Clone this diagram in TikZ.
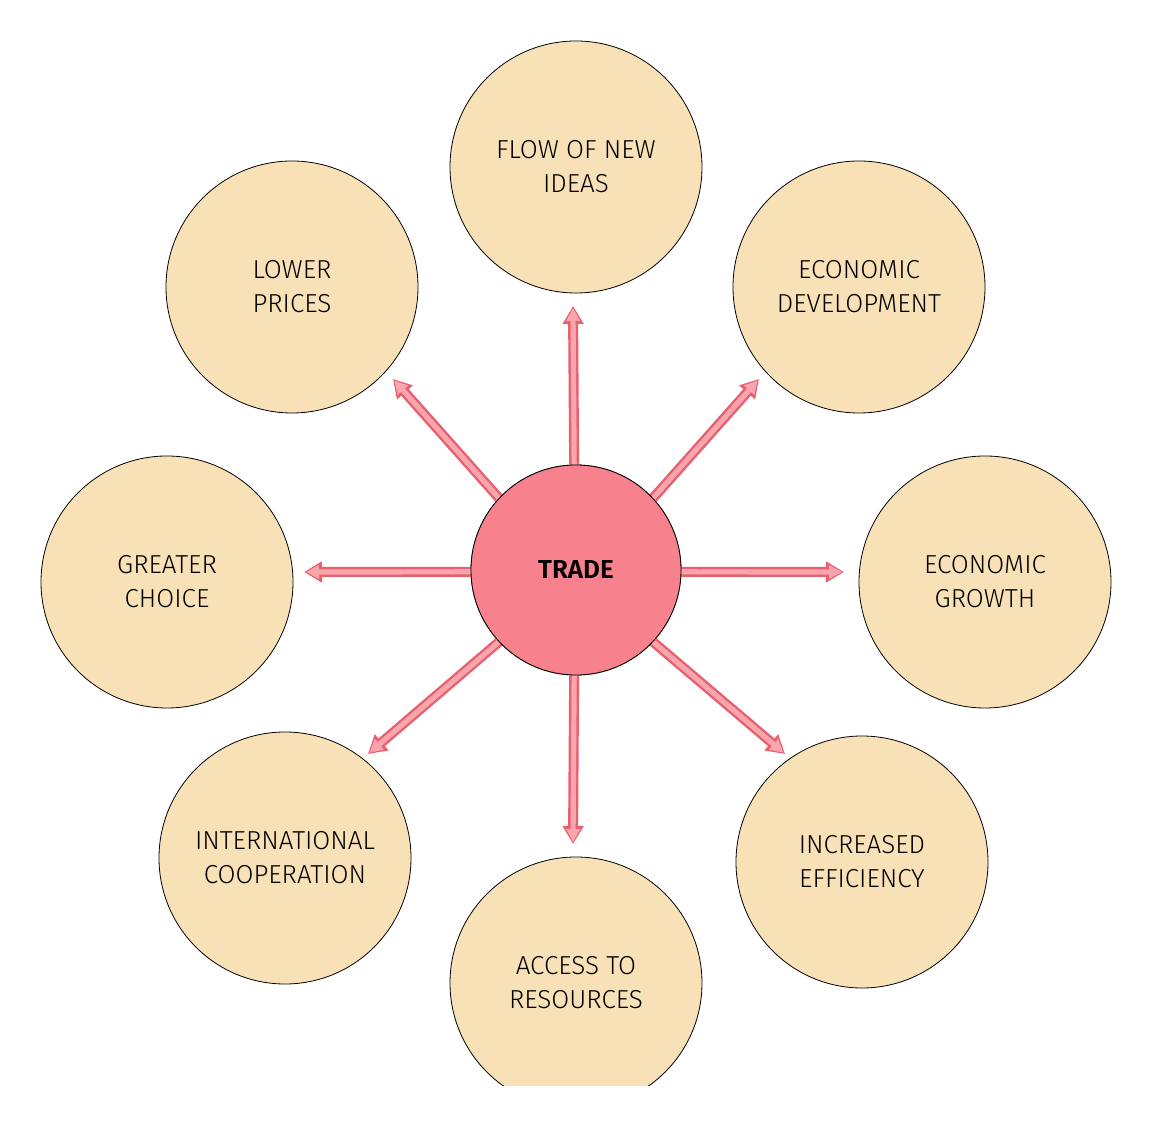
\documentclass[tikz,border=0pt]{standalone}
\usepackage{fontspec}
\setmainfont{Fira Sans Light}
\usetikzlibrary{arrows.meta}
\definecolor{effectfill}{HTML}{F9E1B7}
\definecolor{hubfill}{HTML}{F7818D}
\definecolor{linkdark}{HTML}{E8606E}
\definecolor{linklight}{HTML}{F9A5AE}
\begin{document}
\begin{tikzpicture}[
x=0.5pt,y=-0.5pt,
font=\fontsize{13}{17}\selectfont,
effect/.style={circle,draw=black,fill=effectfill,thin,minimum size=126pt,inner sep=0pt,align=center},
hub/.style={circle,draw=black,fill=hubfill,thin,minimum size=105pt,inner sep=0pt,font=\fontsize{13}{17}\selectfont\bfseries},
link/.style={-{Triangle[length=9pt,width=10pt]},line width=5pt,draw=linkdark},
linkfill/.style={-{Triangle[length=6.5pt,width=6.6pt]},line width=2.6pt,draw=linklight,shorten >=1pt},
]
\useasboundingbox (0,0) rectangle (1152,1127);
\begin{scope}
\clip (0,0) rectangle (1152,1085);

\node[hub] (trade) at (576,570) {TRADE};

% Surrounding effects
\node[effect] (ideas) at (576,167) {FLOW OF NEW\\IDEAS};
\node[effect] (prices) at (292,287) {LOWER\\PRICES};
\node[effect] (dev) at (859,287) {ECONOMIC\\DEVELOPMENT};
\node[effect] (choice) at (167,582) {GREATER\\CHOICE};
\node[effect] (growth) at (985,582) {ECONOMIC\\GROWTH};
\node[effect] (coop) at (285,858) {INTERNATIONAL\\COOPERATION};
\node[effect] (eff) at (862,862) {INCREASED\\EFFICIENCY};
\node[effect] (access) at (576,983) {ACCESS TO\\RESOURCES};

% Arrow tips
\coordinate (tN) at (573,306);
\coordinate (tS) at (573,844);
\coordinate (tE) at (844,572);
\coordinate (tW) at (304,572);
\coordinate (tNE) at (759,379);
\coordinate (tNW) at (393,379);
\coordinate (tSW) at (368,754);
\coordinate (tSE) at (785,754);

\foreach \t/\a in {tN/91,tS/269,tE/359,tW/181,tNE/43,tNW/137,tSW/223,tSE/317}{
  \draw[link] (trade.\a) -- (\t);
  \draw[linkfill] (trade.\a) -- (\t);
}
\node[hub] at (trade) {TRADE};
\end{scope}
\end{tikzpicture}
\end{document}
